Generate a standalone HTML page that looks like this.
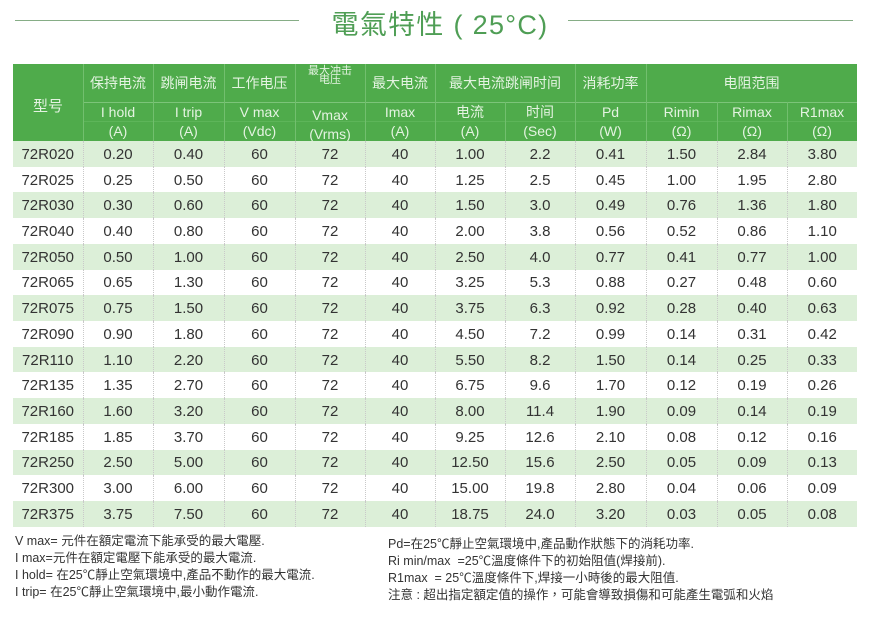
<!DOCTYPE html>
<html><head><meta charset="utf-8">
<style>
*{margin:0;padding:0;box-sizing:border-box}
html,body{width:883px;height:628px;background:#fff;overflow:hidden}
body{position:relative;font-family:"Liberation Sans","Noto Sans CJK SC",sans-serif;color:#333}
.line{position:absolute;height:1px;background:#86ad86;top:20px}
.title{position:absolute;left:290px;width:300px;top:7px;text-align:center;font-family:"Liberation Sans","Noto Sans CJK TC",sans-serif;font-size:27px;line-height:36px;color:#4f9e55;letter-spacing:1.3px}
.hbg{position:absolute;left:13px;top:64px;width:844px;height:77px;background:#4fab4b}
.vl{position:absolute;width:1px;background:#72bf6e}
.hl{position:absolute;height:1px;left:83px;width:774px}
.h{position:absolute;text-align:center;color:#e4f3e1;font-size:14px;white-space:nowrap}
.r1{top:64px;height:38px;line-height:38px}
.r2{top:102px;height:19px;line-height:20px}
.r3{top:121px;height:20px;line-height:20px}
table{position:absolute;left:13px;border-collapse:collapse;table-layout:fixed;width:844px}
#bd{top:141px}
#bd td{height:25.73px;text-align:center;vertical-align:middle;font-size:15px;color:#333;border-left:1px dotted #c9c9c9;padding-top:1px}
#bd td:first-child{border-left:none}
#bd tr:nth-child(odd) td{background:#dcefd8}
.notes{position:absolute;font-family:"Liberation Sans","Noto Sans CJK TC",sans-serif;font-size:12.5px;color:#333;white-space:nowrap}
.notes div{line-height:17px;height:17px}
.sm{position:absolute;text-align:center;color:#e4f3e1;font-size:11px;line-height:11px;white-space:nowrap}
</style></head><body>
<div class="line" style="left:15px;width:284px"></div>
<div class="line" style="left:568px;width:285px"></div>
<div class="title">電氣特性 ( 25°C)</div>

<div class="hbg"></div>
<div class="hl" style="top:102px;background:#7cc479"></div>
<div class="hl" style="top:121px;background:#5db559"></div>
<div class="vl" style="left:83px;top:64px;height:77px"></div>
<div class="vl" style="left:153px;top:64px;height:77px"></div>
<div class="vl" style="left:224px;top:64px;height:77px"></div>
<div class="vl" style="left:295px;top:64px;height:77px"></div>
<div class="vl" style="left:365px;top:64px;height:77px"></div>
<div class="vl" style="left:435px;top:64px;height:77px"></div>
<div class="vl" style="left:575px;top:64px;height:77px"></div>
<div class="vl" style="left:646px;top:64px;height:77px"></div>
<div class="vl" style="left:505px;top:102px;height:39px"></div>
<div class="vl" style="left:717px;top:102px;height:39px"></div>
<div class="vl" style="left:787px;top:102px;height:39px"></div>

<div class="h" style="left:13px;width:70px;top:68px;height:77px;line-height:77px;font-size:15px">型号</div>

<div class="h r1" style="left:83px;width:70px">保持电流</div>
<div class="h r1" style="left:153px;width:71px">跳闸电流</div>
<div class="h r1" style="left:224px;width:71px">工作电压</div>
<div class="sm" style="left:295px;width:70px;top:66px">最大冲击</div>
<div class="sm" style="left:295px;width:70px;top:75px">电压</div>
<div class="h r1" style="left:365px;width:70px">最大电流</div>
<div class="h r1" style="left:435px;width:140px">最大电流跳闸时间</div>
<div class="h r1" style="left:575px;width:71px">消耗功率</div>
<div class="h r1" style="left:646px;width:211px">电阻范围</div>

<div class="h r2" style="left:83px;width:70px">I hold</div>
<div class="h r2" style="left:153px;width:71px">I trip</div>
<div class="h r2" style="left:224px;width:71px">V max</div>
<div class="h r2" style="left:295px;width:70px;top:105px">Vmax</div>
<div class="h r2" style="left:365px;width:70px">Imax</div>
<div class="h r2" style="left:435px;width:70px">电流</div>
<div class="h r2" style="left:505px;width:70px">时间</div>
<div class="h r2" style="left:575px;width:71px">Pd</div>
<div class="h r2" style="left:646px;width:71px">Rimin</div>
<div class="h r2" style="left:717px;width:70px">Rimax</div>
<div class="h r2" style="left:787px;width:70px">R1max</div>

<div class="h r3" style="left:83px;width:70px">(A)</div>
<div class="h r3" style="left:153px;width:71px">(A)</div>
<div class="h r3" style="left:224px;width:71px">(Vdc)</div>
<div class="h r3" style="left:295px;width:70px;top:124px">(Vrms)</div>
<div class="h r3" style="left:365px;width:70px">(A)</div>
<div class="h r3" style="left:435px;width:70px">(A)</div>
<div class="h r3" style="left:505px;width:70px">(Sec)</div>
<div class="h r3" style="left:575px;width:71px">(W)</div>
<div class="h r3" style="left:646px;width:71px">(Ω)</div>
<div class="h r3" style="left:717px;width:70px">(Ω)</div>
<div class="h r3" style="left:787px;width:70px">(Ω)</div>

<table id="bd">
<colgroup><col style="width:70px"><col style="width:70px"><col style="width:71px"><col style="width:71px"><col style="width:70px"><col style="width:70px"><col style="width:70px"><col style="width:70px"><col style="width:71px"><col style="width:71px"><col style="width:70px"><col style="width:70px"></colgroup>
<tr><td>72R020</td><td>0.20</td><td>0.40</td><td>60</td><td>72</td><td>40</td><td>1.00</td><td>2.2</td><td>0.41</td><td>1.50</td><td>2.84</td><td>3.80</td></tr>
<tr><td>72R025</td><td>0.25</td><td>0.50</td><td>60</td><td>72</td><td>40</td><td>1.25</td><td>2.5</td><td>0.45</td><td>1.00</td><td>1.95</td><td>2.80</td></tr>
<tr><td>72R030</td><td>0.30</td><td>0.60</td><td>60</td><td>72</td><td>40</td><td>1.50</td><td>3.0</td><td>0.49</td><td>0.76</td><td>1.36</td><td>1.80</td></tr>
<tr><td>72R040</td><td>0.40</td><td>0.80</td><td>60</td><td>72</td><td>40</td><td>2.00</td><td>3.8</td><td>0.56</td><td>0.52</td><td>0.86</td><td>1.10</td></tr>
<tr><td>72R050</td><td>0.50</td><td>1.00</td><td>60</td><td>72</td><td>40</td><td>2.50</td><td>4.0</td><td>0.77</td><td>0.41</td><td>0.77</td><td>1.00</td></tr>
<tr><td>72R065</td><td>0.65</td><td>1.30</td><td>60</td><td>72</td><td>40</td><td>3.25</td><td>5.3</td><td>0.88</td><td>0.27</td><td>0.48</td><td>0.60</td></tr>
<tr><td>72R075</td><td>0.75</td><td>1.50</td><td>60</td><td>72</td><td>40</td><td>3.75</td><td>6.3</td><td>0.92</td><td>0.28</td><td>0.40</td><td>0.63</td></tr>
<tr><td>72R090</td><td>0.90</td><td>1.80</td><td>60</td><td>72</td><td>40</td><td>4.50</td><td>7.2</td><td>0.99</td><td>0.14</td><td>0.31</td><td>0.42</td></tr>
<tr><td>72R110</td><td>1.10</td><td>2.20</td><td>60</td><td>72</td><td>40</td><td>5.50</td><td>8.2</td><td>1.50</td><td>0.14</td><td>0.25</td><td>0.33</td></tr>
<tr><td>72R135</td><td>1.35</td><td>2.70</td><td>60</td><td>72</td><td>40</td><td>6.75</td><td>9.6</td><td>1.70</td><td>0.12</td><td>0.19</td><td>0.26</td></tr>
<tr><td>72R160</td><td>1.60</td><td>3.20</td><td>60</td><td>72</td><td>40</td><td>8.00</td><td>11.4</td><td>1.90</td><td>0.09</td><td>0.14</td><td>0.19</td></tr>
<tr><td>72R185</td><td>1.85</td><td>3.70</td><td>60</td><td>72</td><td>40</td><td>9.25</td><td>12.6</td><td>2.10</td><td>0.08</td><td>0.12</td><td>0.16</td></tr>
<tr><td>72R250</td><td>2.50</td><td>5.00</td><td>60</td><td>72</td><td>40</td><td>12.50</td><td>15.6</td><td>2.50</td><td>0.05</td><td>0.09</td><td>0.13</td></tr>
<tr><td>72R300</td><td>3.00</td><td>6.00</td><td>60</td><td>72</td><td>40</td><td>15.00</td><td>19.8</td><td>2.80</td><td>0.04</td><td>0.06</td><td>0.09</td></tr>
<tr><td>72R375</td><td>3.75</td><td>7.50</td><td>60</td><td>72</td><td>40</td><td>18.75</td><td>24.0</td><td>3.20</td><td>0.03</td><td>0.05</td><td>0.08</td></tr>
</table>

<div class="notes" style="left:15px;top:533px">
<div>V max= 元件在額定電流下能承受的最大電壓.</div>
<div>I max=元件在額定電壓下能承受的最大電流.</div>
<div>I hold= 在25℃靜止空氣環境中,產品不動作的最大電流.</div>
<div>I trip= 在25℃靜止空氣環境中,最小動作電流.</div>
</div>
<div class="notes" style="left:388px;top:536px">
<div>Pd=在25℃靜止空氣環境中,產品動作狀態下的消耗功率.</div>
<div>Ri min/max&nbsp; =25℃溫度條件下的初始阻值(焊接前).</div>
<div>R1max&nbsp; = 25℃溫度條件下,焊接一小時後的最大阻值.</div>
<div>注意 : 超出指定額定值的操作，可能會導致損傷和可能產生電弧和火焰</div>
</div>
</body></html>
